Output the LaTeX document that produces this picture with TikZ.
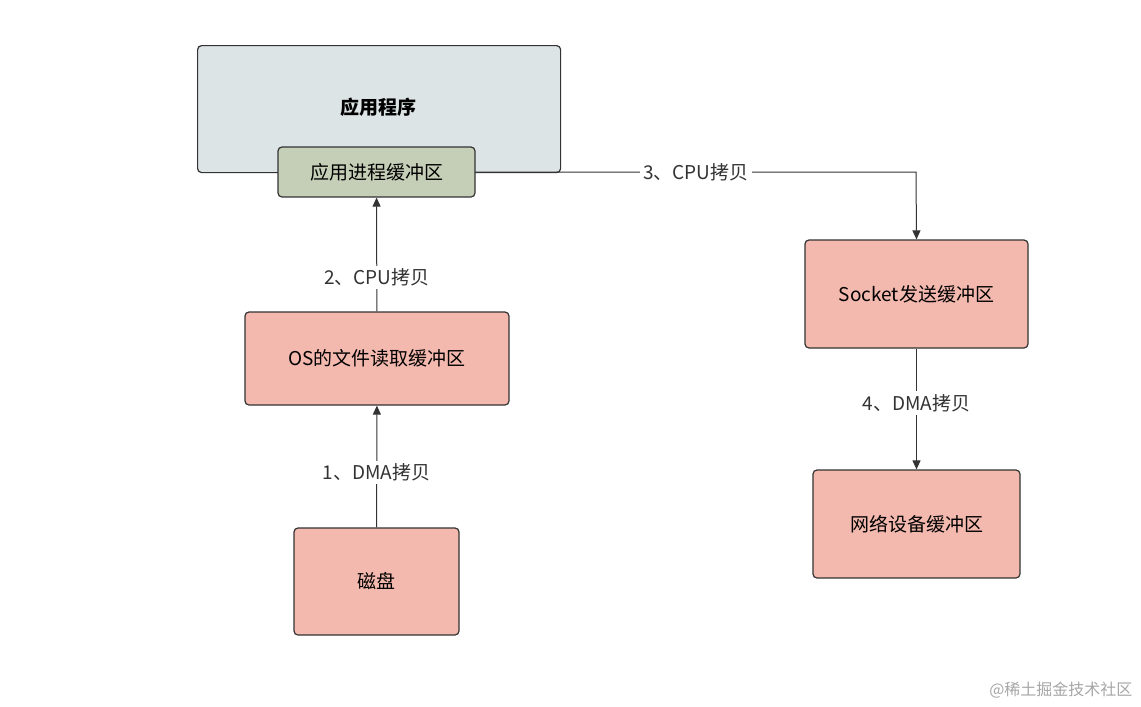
\documentclass[tikz,border=0pt]{standalone}
\usepackage{fontspec}
\setmainfont{Noto Sans CJK SC}
\usetikzlibrary{arrows.meta}
\definecolor{appfill}{HTML}{DDE4E5}
\definecolor{buffill}{HTML}{C5CFB7}
\definecolor{redfill}{HTML}{F4B9AE}
\definecolor{edge}{HTML}{333333}
\tikzset{
 box/.style={draw=edge,line width=1.2pt,rounded corners=4pt,font=\fontsize{19}{22}\selectfont},
 conn/.style={draw=edge,line width=1pt,-{Triangle[length=9pt,width=8pt]}},
 lbl/.style={fill=white,inner sep=3pt,font=\fontsize{19}{22}\selectfont,text=edge}
}
\begin{document}
\begin{tikzpicture}[x=1pt,y=-1pt]
\useasboundingbox (0,0) rectangle (1141,707);
\node[box,fill=appfill,minimum width=363pt,minimum height=127pt,anchor=north west,text depth=70pt] (app) at (197,45) {};
\node[font=\fontsize{19}{22}\selectfont\bfseries] (apptxt) at (378,107) {应用程序};
\node[box,fill=buffill,minimum width=197pt,minimum height=50pt] (buf) at (376.5,172) {应用进程缓冲区};
\node[box,fill=redfill,minimum width=264pt,minimum height=93pt] (os) at (377,358.5) {OS的文件读取缓冲区};
\node[box,fill=redfill,minimum width=165pt,minimum height=107pt] (disk) at (376.5,581.5) {磁盘};
\node[box,fill=redfill,minimum width=223pt,minimum height=108pt] (sock) at (916.5,294) {Socket发送缓冲区};
\node[box,fill=redfill,minimum width=207pt,minimum height=108pt] (net) at (916.5,524) {网络设备缓冲区};
\coordinate (corner) at (916,172);
\draw[conn] (disk) -- node[lbl,pos=0.45] {1、DMA拷贝} (os);
\draw[conn] (os) -- node[lbl,pos=0.3] {2、CPU拷贝} (buf);
\draw[conn] (buf.east) -- node[lbl,pos=0.5] {3、CPU拷贝} (corner) -- (sock.north);
\draw[conn] (sock) -- node[lbl,pos=0.45] {4、DMA拷贝} (net);
\node[font=\fontsize{16}{18}\selectfont,text=gray!70,anchor=east] (wm) at (1136,690) {@稀土掘金技术社区};
\end{tikzpicture}
\end{document}
